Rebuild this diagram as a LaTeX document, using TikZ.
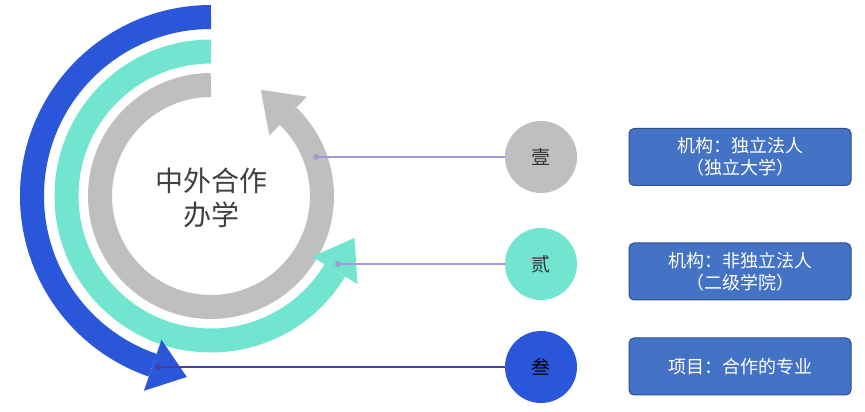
\documentclass[tikz,border=0pt]{standalone}
\usepackage{fontspec}
\setmainfont{Noto Sans CJK SC}
\usetikzlibrary{calc}
\definecolor{cgray}{HTML}{BFBFBF}
\definecolor{cteal}{HTML}{72E5D1}
\definecolor{cblue}{HTML}{2A57D9}
\definecolor{cbox}{HTML}{4472C4}
\definecolor{cboxe}{HTML}{2F4F8F}
\definecolor{cline}{HTML}{A29AD4}
\begin{document}
\begin{tikzpicture}[x=1pt,y=1pt,
  band/.style={line width=24pt},
  circ/.style={circle,minimum size=72pt,inner sep=0pt,font=\fontsize{19}{20}\selectfont},
  infobox/.style={rounded corners=5pt,draw=cboxe,line width=1pt,fill=cbox,text=white,minimum width=222pt,minimum height=57pt,align=center,font=\fontsize{18}{22}\selectfont},
  link/.style={cline,line width=1.3pt},
  dot/.style={circle,fill=cline,inner sep=0pt,minimum size=6pt}]
\useasboundingbox (0,0) rectangle (865,412);
\coordinate (c) at (211,216);
% gray
\draw[band,cgray] ($(c)+(90:111)$) arc[start angle=90,end angle=406,radius=111];
\fill[cgray] ($(c)+(46:138)$) -- ($(c)+(46:111)+(136:38)$) -- ($(c)+(46:84)$) -- cycle;
% teal
\draw[band,cteal] ($(c)+(90:144.5)$) arc[start angle=90,end angle=329,radius=144.5];
\fill[cteal] ($(c)+(329:171)$) -- ($(c)+(329:144.5)+(59:38)$) -- ($(c)+(329:118)$) -- cycle;
% blue
\draw[band,cblue] ($(c)+(90:179)$) arc[start angle=90,end angle=251,radius=179];
\fill[cblue] ($(c)+(251:206)$) -- ($(c)+(251:179)+(341:36)$) -- ($(c)+(251:152)$) -- cycle;
\node[text=black!75,align=center,font=\fontsize{28}{34}\selectfont] (t) at (211,214) {中外合作\\办学};
% circles
\node[circ,fill=cgray,text=black!80] (n1) at (541,255) {壹};
\node[circ,fill=cteal,text=black!80] (n2) at (541,148) {贰};
\node[circ,fill=cblue,text=black] (n3) at (541,45) {叁};
\node[dot] (d1) at (316,255) {};
\node[dot] (d2) at (338,148) {};
\node[dot,fill=cline!60!blue!70!black] (d3) at (158,45) {};
\draw[link] (d1) -- (n1);
\draw[link] (d2) -- (n2);
\draw[link,color=cline!60!blue!70!black] (d3) -- (n3);
% boxes
\node[infobox] (b1) at (740,255) {机构：独立法人\\（独立大学）};
\node[infobox] (b2) at (740,140.5) {机构：非独立法人\\（二级学院）};
\node[infobox] (b3) at (740,45.5) {项目：合作的专业};
\end{tikzpicture}
\end{document}
